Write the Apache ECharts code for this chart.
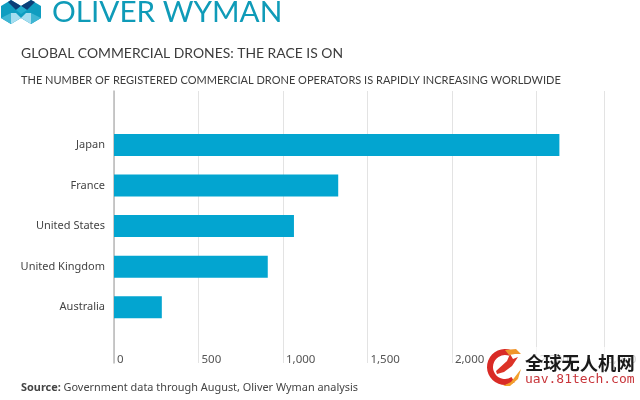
<!DOCTYPE html>
<html><head><meta charset="utf-8">
<style>html,body{margin:0;padding:0;background:#fff}#c{width:640px;height:400px}</style>
<script src="https://cdn.jsdelivr.net/npm/echarts@6/dist/echarts.min.js"></script>
</head><body><div id="c"></div>
<script>
const categories = ['Japan','France','United States','United Kingdom','Australia'];
const operators = [2636,1327,1065,910,283];
const axisMax = 2900;
const lastTickLabel = '3,000';
const chart = echarts.init(document.getElementById('c'),null,{renderer:'canvas'});
const poly=(pts,fill,z)=>({type:'polygon',shape:{points:pts},style:{fill},z:z||5,silent:true});
const logo=[
 poly([[1,6],[11,0],[21,6],[21,18],[11,24],[1,18]],'#0f9dc0'),
 poly([[21,6],[31,0],[41,6],[41,18],[31,24],[21,18]],'#0f9dc0'),
 poly([[11,0],[21,6],[16,10],[8,2]],'#0b3f78',6),
 poly([[31,0],[21,6],[27,10],[35,2]],'#0b3f78',6),
 poly([[11,24],[21,18],[16,13],[11,13]],'#a5def0',6),
 poly([[31,24],[21,18],[26,13],[31,13]],'#a5def0',6),
 poly([[1,18],[11,13],[11,24]],'#3fb6d3',6),
 poly([[41,18],[31,13],[31,24]],'#3fb6d3',6),
 poly([[16,10],[21,6],[27,10],[21,14]],'#23b0cf',6)
];
const mark=[
 {type:'rect',shape:{x:484,y:347,width:156,height:42},style:{fill:'rgba(255,255,255,0.72)'},z:7,silent:true},
 {type:'sector',shape:{cx:505,cy:367,r:18,r0:12,startAngle:-1.2,endAngle:1.0,clockwise:false},style:{fill:'#d92b26'},z:8,silent:true},
 poly([[496,371],[507,361],[510,354],[513,359],[518,357],[512,366],[504,372],[497,374]],'#dc3327',8),
 poly([[505,350],[516,349],[521,354],[515,354],[509,355]],'#f0952a',9),
 poly([[503,386],[511,382],[521,369],[518,379],[510,386]],'#f2a02c',9),
 {type:'text',x:525,y:363,style:{text:'全球无人机网',fill:'#1a1a1a',font:'bold 18.3px "Noto Sans CJK SC"',textVerticalAlign:'middle'},z:9,silent:true},
 {type:'text',x:525,y:380,style:{text:'uav.81tech.com',fill:'#c8353a',font:'13px "DejaVu Sans Mono"',textVerticalAlign:'middle'},z:9,silent:true}
];
chart.setOption({
 animation:false,
 backgroundColor:'#fff',
 textStyle:{fontFamily:'Lato'},
 title:[
  {text:'OLIVER WYMAN',left:47,top:-8,textStyle:{fontFamily:'Lato',fontSize:29.7,fontWeight:400,color:'#0f9bb8'}},
  {text:'GLOBAL COMMERCIAL DRONES: THE RACE IS ON',left:16,top:42,textStyle:{fontFamily:'Lato',fontSize:13.9,fontWeight:400,color:'#3c3c3c'}},
  {text:'THE NUMBER OF REGISTERED COMMERCIAL DRONE OPERATORS IS RAPIDLY INCREASING WORLDWIDE',left:16,top:70,textStyle:{fontFamily:'Lato',fontSize:11.03,fontWeight:400,color:'#3c3c3c'}},
  {text:'{b|Source:} Government data through August, Oliver Wyman analysis',left:16,top:377,textStyle:{rich:{b:{fontFamily:'Noto Sans',fontWeight:700,fontSize:10.9,color:'#444'}},fontFamily:'Noto Sans',fontSize:10.9,fontWeight:400,color:'#444'}}
 ],
 grid:[
  {left:114,width:490,top:124.6,height:203,containLabel:false},
  {left:114,width:490,top:91,height:272,containLabel:false}
 ],
 xAxis:[
  {gridIndex:0,type:'value',min:0,max:axisMax,show:false},
  {gridIndex:1,type:'value',min:0,max:axisMax,interval:500,
   axisLine:{show:false},axisTick:{show:false},
   splitLine:{show:true,lineStyle:{color:'#e3e3e3',width:1}},
   axisLabel:{show:true,inside:true,margin:-3,align:'left',showMinLabel:true,showMaxLabel:true,hideOverlap:false,
    padding:[0,0,0,3],color:'#555',fontFamily:'Noto Sans',fontSize:11.5,
    formatter:v=>v===axisMax?lastTickLabel:v.toLocaleString('en-US')}}
 ],
 yAxis:[
  {gridIndex:0,type:'category',inverse:true,data:categories,
   axisLine:{show:false},axisTick:{show:false},splitLine:{show:false},
   axisLabel:{margin:9,color:'#444',fontFamily:'Noto Sans',fontSize:11}},
  {gridIndex:1,type:'value',min:0,max:1,
   axisLine:{show:true,lineStyle:{color:'#b9b9b9',width:1.5}},axisTick:{show:false},axisLabel:{show:false},splitLine:{show:false}}
 ],
 series:[{type:'bar',xAxisIndex:0,yAxisIndex:0,data:operators,barWidth:22,itemStyle:{color:'#03a5d0'},z:3}],
 graphic:{elements:[...logo,...mark]}
});
</script></body></html>
